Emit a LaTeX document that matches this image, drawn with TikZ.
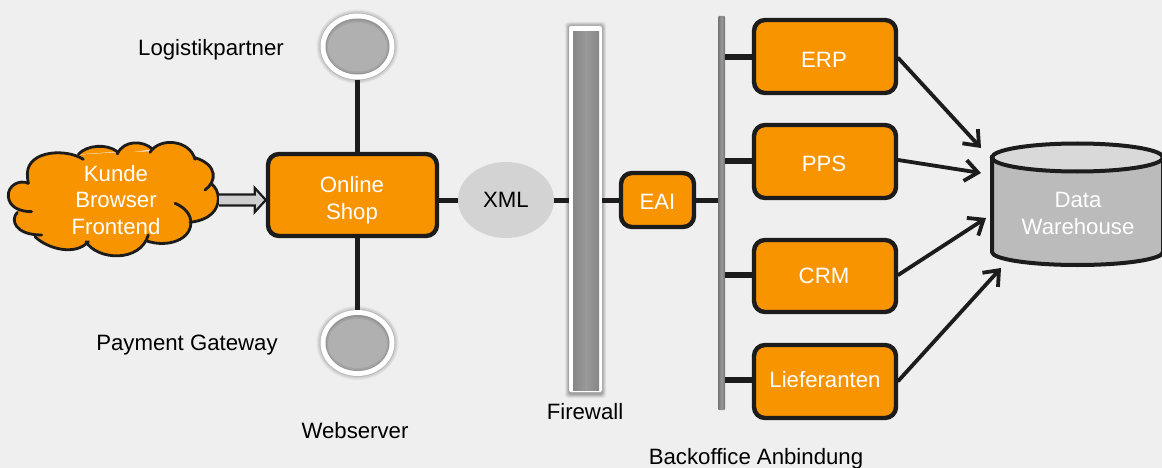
\documentclass[tikz,border=0pt]{standalone}
\usepackage{fontspec}
\setmainfont{Liberation Sans}
\usetikzlibrary{arrows.meta,shapes.geometric,calc}
\definecolor{bgc}{HTML}{EFEFEF}
\definecolor{boxo}{HTML}{F79400}
\definecolor{inkc}{HTML}{1C1C1C}
\definecolor{xmlc}{HTML}{D3D3D3}
\definecolor{cylb}{HTML}{BBBBBB}
\definecolor{cylt}{HTML}{D9D9D9}
\definecolor{hollowc}{HTML}{CFCFCF}
\tikzset{
  base/.style={font=\fontsize{22.2}{26.6}\selectfont,align=center,inner sep=0pt},
  lbl/.style={base,text=black},
  obox/.style={draw=inkc,line width=4.4pt,fill=boxo,rounded corners=11pt,inner sep=0pt},
  boxtext/.style={base,text=white},
  link/.style={draw=inkc,line width=5pt},
  tap/.style={draw=inkc,line width=6pt},
  flow/.style={draw=inkc,line width=3.8pt,line cap=round,-{Straight Barb[length=13pt,width=21pt,line width=3.8pt]}},
  lobe/.style={draw=inkc,line width=2.8pt,line cap=round},
  lobefill/.style={fill=boxo,draw=none},
  orb/.style={ellipse,inner sep=0pt,minimum width=74pt,minimum height=66pt,draw=none},
}
\newcommand\cloudlobes[1]{%
  #1{(85,190) .. controls (60,178) and (22,195) .. (25,230) .. controls (28,262) and (60,275) .. (95,275)}%
  #1{(52,277) .. controls (30,300) and (45,345) .. (125,345)}%
  #1{(105,350) .. controls (140,385) and (225,410) .. (265,365)}%
  #1{(258,365) .. controls (290,420) and (420,430) .. (445,345)}%
  #1{(438,362) .. controls (500,385) and (580,360) .. (572,300) .. controls (568,275) and (545,258) .. (525,250)}%
  #1{(570,307) .. controls (630,300) and (655,270) .. (655,235) .. controls (655,215) and (645,200) .. (635,192)}%
  #1{(615,210) .. controls (650,185) and (655,135) .. (585,113)}%
  #1{(585,118) .. controls (570,60) and (480,50) .. (450,97)}%
  #1{(458,88) .. controls (430,60) and (370,60) .. (352,102)}%
  #1{(352,95) .. controls (320,70) and (260,75) .. (235,103)}%
  #1{(250,118) .. controls (200,85) and (85,90) .. (82,160) .. controls (82,170) and (83,180) .. (85,190)}%
}
\newcommand\lobeF[1]{\fill[lobefill] #1;}
\newcommand\lobeS[1]{\draw[lobe] #1;}
\begin{document}
\begin{tikzpicture}[x=1pt,y=-1pt]
\useasboundingbox (0,0) rectangle (1162,468);
\fill[bgc] (0,0) rectangle (1162,468);

% cloud
\begin{scope}[shift={(0,120)},x=0.33333pt,y=-0.33333pt]
  \cloudlobes{\lobeF}
  \fill[lobefill] (85,190) -- (50,215) -- (50,250) -- (53,272) -- (50,285) -- (65,315) -- (105,348) -- (125,352) -- (200,375) -- (262,366) -- (340,400) -- (445,352) -- (520,360) -- (572,304) -- (640,240) -- (640,190) -- (590,113) -- (520,80) -- (452,94) -- (352,97) -- (237,104) -- (150,110) -- cycle;
  \cloudlobes{\lobeS}
\end{scope}
\node[base,text=white] (kunde) at (116,200) {Kunde\\Browser\\Frontend};
\coordinate (cloudE) at (219,200);

% boxes
\node[obox,minimum width=169pt,minimum height=82pt] (shop) at (352.5,195) {};
\node[boxtext] (shopT) at (352,200) {Online\\Shop};
\node[obox,minimum width=73pt,minimum height=54pt] (eai) at (657.5,200) {};
\node[boxtext] (eaiT) at (657.5,202) {EAI};
\node[obox,minimum width=142pt,minimum height=73pt] (erp) at (825,56.5) {};
\node[boxtext] (erpT) at (824,60) {ERP};
\node[obox,minimum width=142pt,minimum height=73pt] (pps) at (825,161.5) {};
\node[boxtext] (ppsT) at (824,164) {PPS};
\node[obox,minimum width=142pt,minimum height=72pt] (crm) at (825,276) {};
\node[boxtext] (crmT) at (824,276) {CRM};
\node[obox,minimum width=142pt,minimum height=73pt] (lief) at (825,381.5) {};
\node[boxtext] (liefT) at (825,380) {Lieferanten};
\node[base,ellipse,fill=xmlc,minimum width=96pt,minimum height=76pt,text=black] (xml) at (506,200) {XML};

% orbs
\foreach \n/\y in {partner/46.5,gateway/343}{
  \foreach \g/\o in {5/0.12,3.5/0.2,2/0.3,1/0.5}{
    \fill[black!45,opacity=\o] (357.5,\y) ellipse ({37+\g-1} and {33+\g-1});
  }
  \node[orb,fill=white] (\n) at (357.5,\y) {};
  \node[orb,minimum width=64pt,minimum height=56pt,fill=black!42] at (357.5,\y) {};
  \node[orb,minimum width=62pt,minimum height=53pt,fill=black!36] at (357.5,\y+0.5) {};
  \node[orb,minimum width=59pt,minimum height=49pt,fill=black!31] at (357.5,\y+0.5) {};
}

% firewall
\foreach \g/\o in {4/0.12,3/0.18,2/0.25,1/0.4}{
  \fill[black!50,opacity=\o,rounded corners=3pt] (568-\g+1,25-\g+1) rectangle (603+\g-1,393+\g+1);
}
\node[draw=none,fill=white,inner sep=0pt,minimum width=33pt,minimum height=366pt,rounded corners=2pt] (firewall) at (585.5,209) {};
\node[inner sep=0pt,minimum width=26pt,minimum height=358pt,left color=black!47,right color=black!47,middle color=black!40] at (586,211) {};

% bar
\node[inner sep=0pt,minimum width=7pt,minimum height=394pt,left color=black!55,right color=black!55,middle color=black!40,rounded corners=1pt] (bar) at (721.5,213) {};

% connectors
\draw[link] (partner.south) -- (shop.north -| partner.south);
\draw[link] (gateway.north) -- (shop.south -| gateway.north);
\draw[link] (shop.east |- xml.west) -- (xml.west);
\draw[link] (xml.east) -- (firewall.west |- xml.east);
\draw[link] (firewall.east |- eai.west) -- (eai.west);
\draw[link] (eai.east) -- (bar.west |- eai.east);
\foreach \b/\y in {erp/57,pps/161,crm/275,lief/380}{
  \draw[tap] (bar.east |- 0,\y) -- (\b.west |- 0,\y);
}
\coordinate (shopIn) at (shop.west |- cloudE);
\draw[inkc,line width=2.2pt,fill=hollowc,line join=miter]
  ($(cloudE)+(0,-5.5)$) -- ($(shopIn)+(-11,-5.5)$) -- ($(shopIn)+(-11,-12)$) -- (shopIn) -- ($(shopIn)+(-11,12)$) -- ($(shopIn)+(-11,5.5)$) -- ($(cloudE)+(0,5.5)$);

% cylinder
\draw[inkc,line width=4pt,fill=cylb] (992,157.5) -- (992,252) arc[start angle=180,end angle=360,x radius=85.5,y radius=-13] -- (1163,157.5) -- cycle;
\draw[inkc,line width=4pt,fill=cylt] (1077.5,157.5) ellipse (85.5 and 14);
\node[base,text=white] (dw) at (1078,213.5) {Data\\Warehouse};
\coordinate (inA) at (981,148);
\coordinate (inB) at (981,173);
\coordinate (inC) at (986,218);
\coordinate (inD) at (1001,268);
\draw[flow] (erp.east |- 0,58) -- (inA);
\draw[flow] (pps.east |- 0,160) -- (inB);
\draw[flow] (crm.east |- 0,275) -- (inC);
\draw[flow] (lief.east |- 0,381) -- (inD);

% labels
\node[lbl] (l1) at (211,50) {Logistikpartner};
\node[lbl] (l2) at (187,345) {Payment Gateway};
\node[lbl] (l3) at (355,431) {Webserver};
\node[lbl] (l4) at (585,412) {Firewall};
\node[lbl] (l5) at (756,459) {Backoffice Anbindung};
\end{tikzpicture}
\end{document}
